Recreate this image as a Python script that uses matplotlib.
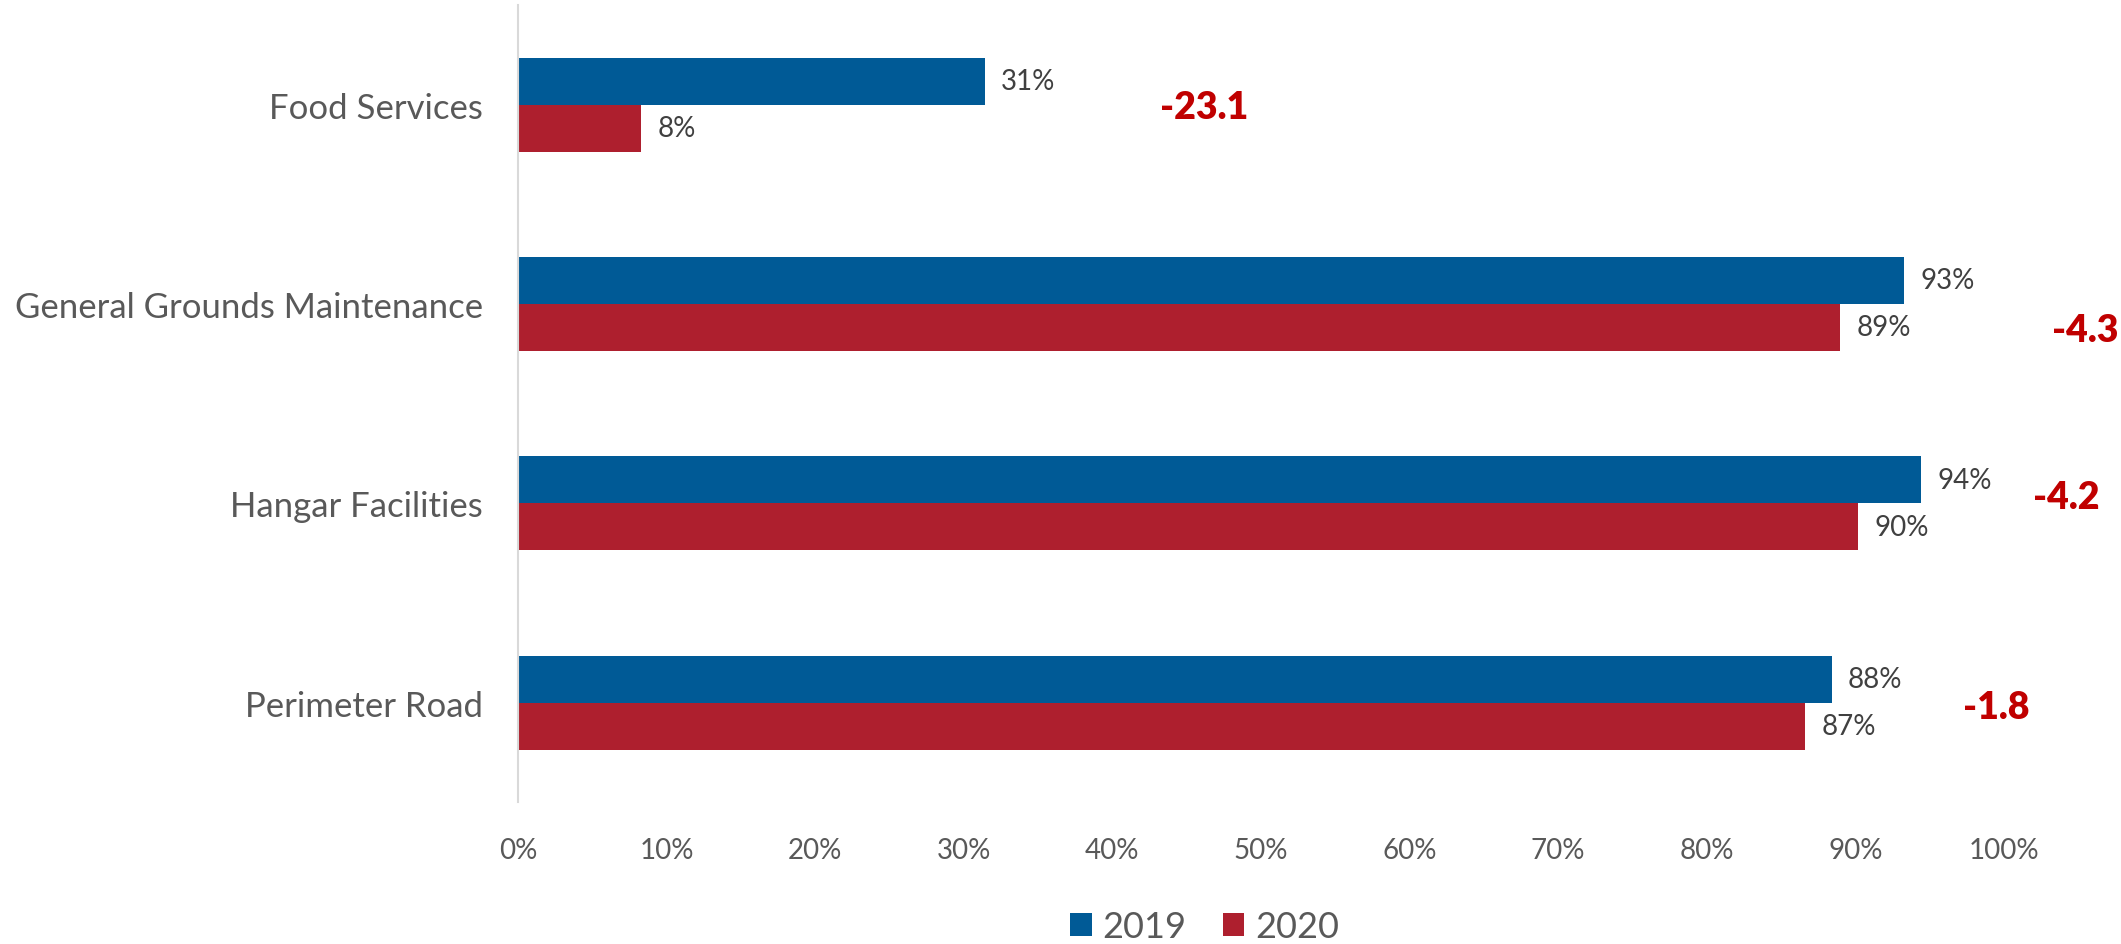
import numpy as np
import matplotlib.pyplot as plt

# dados
categorias = ['Food Services', 'General Grounds Maintenance', 'Hangar Facilities', 'Perimeter Road']
v2019 = [31.4, 93.3, 94.4, 88.4]
v2020 = [8.3, 89.0, 90.2, 86.6]
variacao = ['-23.1', '-4.3', '-4.2', '-1.8']
# posição das caixas de variação (x em %, y em categorias)
var_x = [46.2, 105.5, 104.2, 99.5]
var_y = [0.01, 1.13, 1.97, 3.02]

azul = '#005A96'
vermelho = '#AE1F2E'
cinza = '#595959'

plt.rcParams['font.family'] = ['Lato', 'DejaVu Sans']

fig = plt.figure(figsize=(21.21, 9.45), dpi=100)
ax = fig.add_axes([0.2442, 0.150, 0.7006, 0.8437])

y = np.arange(len(categorias))
h = 0.236
b1 = ax.barh(y - h / 2, v2019, height=h, color=azul, label='2019')
b2 = ax.barh(y + h / 2, v2020, height=h, color=vermelho, label='2020')

for barras, vals in [(b1, v2019), (b2, v2020)]:
    for b, v in zip(barras, vals):
        ax.text(v + 1.1, b.get_y() + b.get_height() / 2, f'{v:.0f}%',
                va='center', ha='left', fontsize=20, color='#404040')

for tx, xx, yy in zip(variacao, var_x, var_y):
    ax.text(xx, yy, tx, ha='center', va='center', fontsize=27,
            fontweight='heavy', color='#C00000', clip_on=False)

ax.set_xlim(0, 100)
ax.set_ylim(3.5, -0.5)
ax.set_yticks(y)
ax.set_yticklabels(categorias, fontsize=25, color=cinza)
ax.set_xticks(np.arange(0, 101, 10))
ax.set_xticklabels([f'{t}%' for t in range(0, 101, 10)], fontsize=20, color=cinza)
ax.tick_params(axis='y', length=0, pad=25)
ax.tick_params(axis='x', length=0, pad=25)

for s in ['top', 'right', 'bottom']:
    ax.spines[s].set_visible(False)
ax.spines['left'].set_color('#D9D9D9')
ax.spines['left'].set_linewidth(1.5)

fig.legend(handles=[b1, b2], labels=['2019', '2020'], loc='center',
           bbox_to_anchor=(0.568, 0.018), ncol=2, frameon=False,
           fontsize=26, labelcolor=cinza, handlelength=0.6, handleheight=0.6,
           handletextpad=0.3, columnspacing=1.0)

fig.savefig('out.png', dpi=100)
